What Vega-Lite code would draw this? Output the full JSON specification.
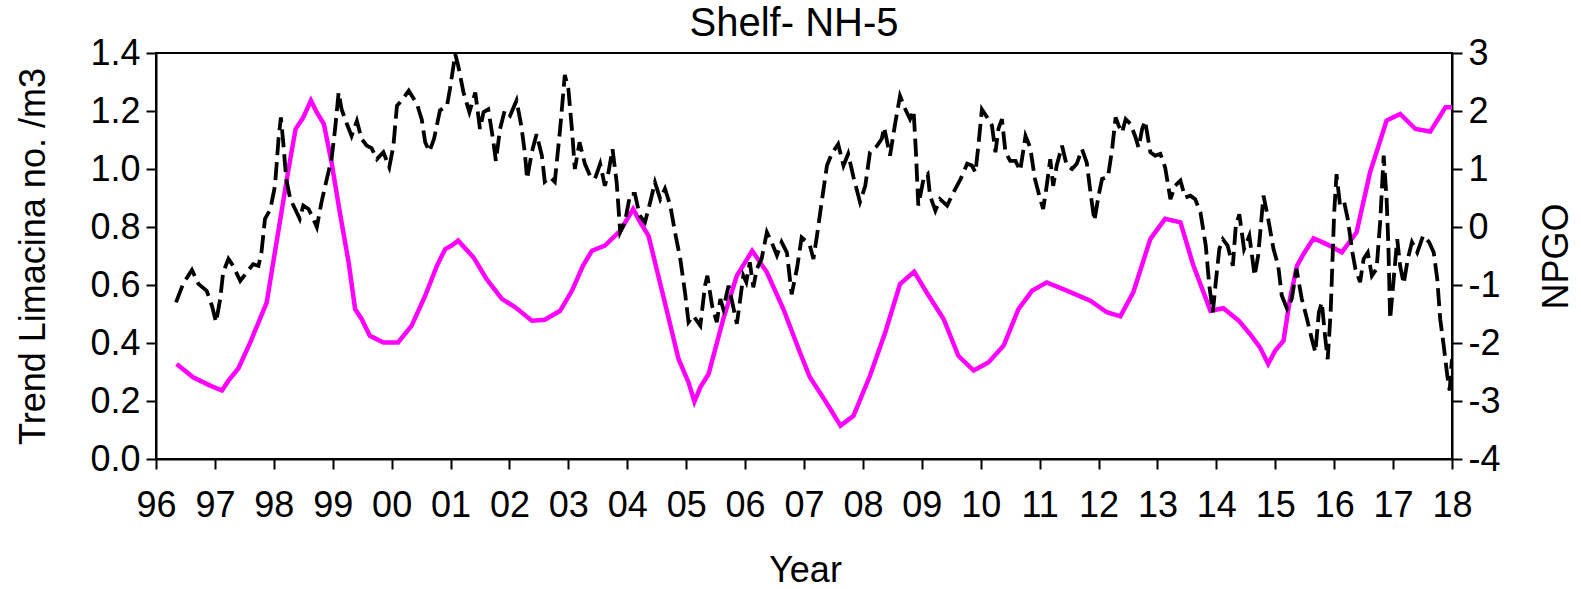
{
  "$schema": "https://vega.github.io/schema/vega-lite/v6.json",
  "width": 1296,
  "height": 406,
  "autosize": {"type": "none"},
  "padding": {"left": 156, "top": 53, "right": 129, "bottom": 130},
  "background": "white",
  "config": {
    "font": "Liberation Sans",
    "view": {"stroke": "black", "strokeWidth": 2},
    "axis": {
      "grid": false,
      "domainColor": "black",
      "domainWidth": 2,
      "tickColor": "black",
      "tickWidth": 2,
      "tickSize": 10,
      "labelColor": "black",
      "labelFont": "Liberation Sans",
      "labelFontSize": 36,
      "labelFlush": false,
      "labelOverlap": false,
      "titleColor": "black",
      "titleFont": "Liberation Sans",
      "titleFontSize": 36,
      "titleFontWeight": "normal"
    }
  },
  "title": {
    "text": "Shelf- NH-5",
    "font": "Liberation Sans",
    "fontSize": 40,
    "fontWeight": "normal",
    "color": "black",
    "anchor": "middle",
    "frame": "group",
    "baseline": "alphabetic",
    "offset": 16,
    "dx": -10,
    "dy": 57
  },
  "datasets": {
    "lim": [
      {"t": 1996.35, "v": 0.328}, {"t": 1996.63, "v": 0.282}, {"t": 1996.92, "v": 0.253}, {"t": 1997.12, "v": 0.236},
      {"t": 1997.23, "v": 0.27}, {"t": 1997.40, "v": 0.313}, {"t": 1997.60, "v": 0.402}, {"t": 1997.88, "v": 0.54},
      {"t": 1997.99, "v": 0.678}, {"t": 1998.13, "v": 0.851}, {"t": 1998.25, "v": 1.0}, {"t": 1998.37, "v": 1.138},
      {"t": 1998.50, "v": 1.178}, {"t": 1998.63, "v": 1.236}, {"t": 1998.73, "v": 1.195}, {"t": 1998.85, "v": 1.155},
      {"t": 1998.98, "v": 1.023}, {"t": 1999.12, "v": 0.851}, {"t": 1999.27, "v": 0.678}, {"t": 1999.38, "v": 0.517},
      {"t": 1999.49, "v": 0.483}, {"t": 1999.63, "v": 0.425}, {"t": 1999.72, "v": 0.416}, {"t": 1999.86, "v": 0.402},
      {"t": 2000.11, "v": 0.402}, {"t": 2000.34, "v": 0.46}, {"t": 2000.57, "v": 0.563}, {"t": 2000.77, "v": 0.667},
      {"t": 2000.91, "v": 0.724}, {"t": 2001.02, "v": 0.736}, {"t": 2001.13, "v": 0.753}, {"t": 2001.39, "v": 0.695},
      {"t": 2001.61, "v": 0.621}, {"t": 2001.87, "v": 0.552}, {"t": 2002.10, "v": 0.523}, {"t": 2002.38, "v": 0.477},
      {"t": 2002.60, "v": 0.48}, {"t": 2002.86, "v": 0.511}, {"t": 2003.06, "v": 0.58}, {"t": 2003.25, "v": 0.667},
      {"t": 2003.40, "v": 0.718}, {"t": 2003.62, "v": 0.736}, {"t": 2003.88, "v": 0.787}, {"t": 2004.10, "v": 0.862},
      {"t": 2004.22, "v": 0.816}, {"t": 2004.36, "v": 0.77}, {"t": 2004.61, "v": 0.563}, {"t": 2004.87, "v": 0.345},
      {"t": 2005.04, "v": 0.264}, {"t": 2005.14, "v": 0.198}, {"t": 2005.24, "v": 0.247}, {"t": 2005.38, "v": 0.293},
      {"t": 2005.63, "v": 0.483}, {"t": 2005.86, "v": 0.632}, {"t": 2006.00, "v": 0.678}, {"t": 2006.12, "v": 0.718},
      {"t": 2006.37, "v": 0.644}, {"t": 2006.65, "v": 0.517}, {"t": 2006.93, "v": 0.368}, {"t": 2007.10, "v": 0.282},
      {"t": 2007.36, "v": 0.201}, {"t": 2007.62, "v": 0.115}, {"t": 2007.84, "v": 0.149}, {"t": 2008.12, "v": 0.287},
      {"t": 2008.38, "v": 0.437}, {"t": 2008.63, "v": 0.603}, {"t": 2008.87, "v": 0.646}, {"t": 2009.08, "v": 0.575},
      {"t": 2009.37, "v": 0.483}, {"t": 2009.62, "v": 0.356}, {"t": 2009.88, "v": 0.305}, {"t": 2010.13, "v": 0.333},
      {"t": 2010.39, "v": 0.391}, {"t": 2010.64, "v": 0.517}, {"t": 2010.87, "v": 0.58}, {"t": 2011.12, "v": 0.609},
      {"t": 2011.40, "v": 0.586}, {"t": 2011.86, "v": 0.546}, {"t": 2012.14, "v": 0.506}, {"t": 2012.37, "v": 0.492},
      {"t": 2012.59, "v": 0.575}, {"t": 2012.88, "v": 0.759}, {"t": 2013.13, "v": 0.828}, {"t": 2013.39, "v": 0.816},
      {"t": 2013.61, "v": 0.667}, {"t": 2013.90, "v": 0.511}, {"t": 2014.12, "v": 0.52}, {"t": 2014.38, "v": 0.477},
      {"t": 2014.57, "v": 0.431}, {"t": 2014.74, "v": 0.385}, {"t": 2014.88, "v": 0.328}, {"t": 2015.00, "v": 0.374},
      {"t": 2015.14, "v": 0.408}, {"t": 2015.25, "v": 0.552}, {"t": 2015.37, "v": 0.667}, {"t": 2015.48, "v": 0.707},
      {"t": 2015.65, "v": 0.761}, {"t": 2015.87, "v": 0.741}, {"t": 2016.13, "v": 0.713}, {"t": 2016.38, "v": 0.782},
      {"t": 2016.61, "v": 0.989}, {"t": 2016.89, "v": 1.167}, {"t": 2017.12, "v": 1.19}, {"t": 2017.38, "v": 1.138},
      {"t": 2017.63, "v": 1.129}, {"t": 2017.89, "v": 1.213}, {"t": 2018.0, "v": 1.213}
    ],
    "npgo": [
      {"t": 1996.34, "v": -1.30}, {"t": 1996.46, "v": -0.98}, {"t": 1996.61, "v": -0.74}, {"t": 1996.72, "v": -0.98},
      {"t": 1996.86, "v": -1.10}, {"t": 1996.95, "v": -1.36}, {"t": 1997.02, "v": -1.64}, {"t": 1997.09, "v": -1.24},
      {"t": 1997.14, "v": -0.78}, {"t": 1997.23, "v": -0.55}, {"t": 1997.31, "v": -0.67}, {"t": 1997.43, "v": -0.93},
      {"t": 1997.54, "v": -0.78}, {"t": 1997.65, "v": -0.64}, {"t": 1997.74, "v": -0.67}, {"t": 1997.79, "v": -0.44},
      {"t": 1997.85, "v": 0.14}, {"t": 1997.94, "v": 0.30}, {"t": 1998.02, "v": 0.71}, {"t": 1998.08, "v": 1.52},
      {"t": 1998.12, "v": 1.89}, {"t": 1998.16, "v": 1.46}, {"t": 1998.21, "v": 0.83}, {"t": 1998.28, "v": 0.48},
      {"t": 1998.39, "v": 0.25}, {"t": 1998.44, "v": 0.14}, {"t": 1998.50, "v": 0.37}, {"t": 1998.59, "v": 0.31},
      {"t": 1998.67, "v": 0.14}, {"t": 1998.73, "v": 0.0}, {"t": 1998.81, "v": 0.43}, {"t": 1998.90, "v": 0.83},
      {"t": 1998.98, "v": 1.17}, {"t": 1999.04, "v": 1.69}, {"t": 1999.10, "v": 2.32}, {"t": 1999.15, "v": 2.03},
      {"t": 1999.24, "v": 1.78}, {"t": 1999.32, "v": 1.57}, {"t": 1999.41, "v": 1.83}, {"t": 1999.49, "v": 1.52},
      {"t": 1999.58, "v": 1.40}, {"t": 1999.66, "v": 1.36}, {"t": 1999.75, "v": 1.17}, {"t": 1999.86, "v": 1.29},
      {"t": 1999.96, "v": 1.03}, {"t": 2000.03, "v": 1.40}, {"t": 2000.09, "v": 2.09}, {"t": 2000.17, "v": 2.18},
      {"t": 2000.29, "v": 2.35}, {"t": 2000.43, "v": 2.12}, {"t": 2000.51, "v": 1.86}, {"t": 2000.57, "v": 1.46},
      {"t": 2000.64, "v": 1.30}, {"t": 2000.72, "v": 1.52}, {"t": 2000.82, "v": 2.01}, {"t": 2000.94, "v": 2.09},
      {"t": 2000.99, "v": 2.38}, {"t": 2001.08, "v": 2.98}, {"t": 2001.13, "v": 2.78}, {"t": 2001.22, "v": 2.32},
      {"t": 2001.32, "v": 1.98}, {"t": 2001.42, "v": 2.32}, {"t": 2001.50, "v": 1.69}, {"t": 2001.56, "v": 1.98},
      {"t": 2001.64, "v": 2.03}, {"t": 2001.72, "v": 1.52}, {"t": 2001.77, "v": 1.14}, {"t": 2001.84, "v": 1.69},
      {"t": 2001.92, "v": 2.01}, {"t": 2002.01, "v": 1.92}, {"t": 2002.12, "v": 2.18}, {"t": 2002.20, "v": 1.75},
      {"t": 2002.26, "v": 1.29}, {"t": 2002.30, "v": 0.83}, {"t": 2002.38, "v": 1.29}, {"t": 2002.46, "v": 1.60},
      {"t": 2002.55, "v": 1.23}, {"t": 2002.60, "v": 0.78}, {"t": 2002.69, "v": 0.86}, {"t": 2002.77, "v": 0.78},
      {"t": 2002.86, "v": 1.69}, {"t": 2002.94, "v": 2.62}, {"t": 2003.00, "v": 2.38}, {"t": 2003.06, "v": 1.69},
      {"t": 2003.11, "v": 1.00}, {"t": 2003.19, "v": 1.46}, {"t": 2003.28, "v": 1.09}, {"t": 2003.37, "v": 0.88},
      {"t": 2003.45, "v": 0.83}, {"t": 2003.54, "v": 1.09}, {"t": 2003.62, "v": 0.71}, {"t": 2003.68, "v": 0.94},
      {"t": 2003.75, "v": 1.34}, {"t": 2003.82, "v": 0.77}, {"t": 2003.88, "v": -0.09}, {"t": 2003.96, "v": 0.08},
      {"t": 2004.05, "v": 0.57}, {"t": 2004.13, "v": 0.57}, {"t": 2004.21, "v": 0.20}, {"t": 2004.30, "v": 0.08},
      {"t": 2004.39, "v": 0.43}, {"t": 2004.47, "v": 0.77}, {"t": 2004.56, "v": 0.48}, {"t": 2004.64, "v": 0.66},
      {"t": 2004.73, "v": 0.37}, {"t": 2004.81, "v": -0.09}, {"t": 2004.90, "v": -0.55}, {"t": 2004.98, "v": -1.13},
      {"t": 2005.04, "v": -1.64}, {"t": 2005.12, "v": -1.53}, {"t": 2005.24, "v": -1.70}, {"t": 2005.32, "v": -1.01},
      {"t": 2005.36, "v": -0.84}, {"t": 2005.44, "v": -1.36}, {"t": 2005.52, "v": -1.64}, {"t": 2005.58, "v": -1.24},
      {"t": 2005.63, "v": -1.41}, {"t": 2005.72, "v": -1.01}, {"t": 2005.77, "v": -1.24}, {"t": 2005.86, "v": -1.67},
      {"t": 2005.91, "v": -1.30}, {"t": 2005.97, "v": -0.84}, {"t": 2006.02, "v": -0.95}, {"t": 2006.08, "v": -0.61},
      {"t": 2006.14, "v": -1.04}, {"t": 2006.20, "v": -0.72}, {"t": 2006.28, "v": -0.55}, {"t": 2006.37, "v": -0.09},
      {"t": 2006.45, "v": -0.26}, {"t": 2006.54, "v": -0.49}, {"t": 2006.62, "v": -0.26}, {"t": 2006.71, "v": -0.44},
      {"t": 2006.79, "v": -1.16}, {"t": 2006.88, "v": -0.72}, {"t": 2006.96, "v": -0.18}, {"t": 2007.05, "v": -0.26},
      {"t": 2007.10, "v": -0.32}, {"t": 2007.16, "v": -0.55}, {"t": 2007.22, "v": -0.15}, {"t": 2007.30, "v": 0.43},
      {"t": 2007.39, "v": 1.06}, {"t": 2007.47, "v": 1.26}, {"t": 2007.58, "v": 1.43}, {"t": 2007.67, "v": 1.06},
      {"t": 2007.75, "v": 1.26}, {"t": 2007.84, "v": 0.86}, {"t": 2007.95, "v": 0.43}, {"t": 2008.04, "v": 0.71},
      {"t": 2008.12, "v": 1.29}, {"t": 2008.24, "v": 1.40}, {"t": 2008.32, "v": 1.52}, {"t": 2008.36, "v": 1.72},
      {"t": 2008.46, "v": 1.23}, {"t": 2008.55, "v": 1.80}, {"t": 2008.63, "v": 2.26}, {"t": 2008.72, "v": 2.03},
      {"t": 2008.80, "v": 1.86}, {"t": 2008.86, "v": 2.01}, {"t": 2008.90, "v": 1.29}, {"t": 2008.94, "v": 0.37},
      {"t": 2009.03, "v": 0.83}, {"t": 2009.10, "v": 0.91}, {"t": 2009.14, "v": 0.54}, {"t": 2009.23, "v": 0.28},
      {"t": 2009.31, "v": 0.48}, {"t": 2009.43, "v": 0.37}, {"t": 2009.54, "v": 0.60}, {"t": 2009.66, "v": 0.83},
      {"t": 2009.77, "v": 1.09}, {"t": 2009.85, "v": 1.06}, {"t": 2009.91, "v": 0.94}, {"t": 2009.96, "v": 1.40},
      {"t": 2010.02, "v": 2.03}, {"t": 2010.11, "v": 1.89}, {"t": 2010.19, "v": 1.75}, {"t": 2010.25, "v": 1.29},
      {"t": 2010.30, "v": 1.69}, {"t": 2010.36, "v": 1.86}, {"t": 2010.42, "v": 1.29}, {"t": 2010.50, "v": 1.14},
      {"t": 2010.59, "v": 1.14}, {"t": 2010.67, "v": 0.97}, {"t": 2010.76, "v": 1.57}, {"t": 2010.84, "v": 1.37},
      {"t": 2010.92, "v": 0.83}, {"t": 2011.01, "v": 0.48}, {"t": 2011.06, "v": 0.31}, {"t": 2011.12, "v": 0.71},
      {"t": 2011.18, "v": 1.17}, {"t": 2011.23, "v": 0.71}, {"t": 2011.29, "v": 1.06}, {"t": 2011.38, "v": 1.40},
      {"t": 2011.46, "v": 1.06}, {"t": 2011.55, "v": 1.00}, {"t": 2011.63, "v": 1.09}, {"t": 2011.72, "v": 1.34},
      {"t": 2011.80, "v": 1.11}, {"t": 2011.87, "v": 0.54}, {"t": 2011.93, "v": 0.11}, {"t": 2012.00, "v": 0.54},
      {"t": 2012.06, "v": 0.83}, {"t": 2012.16, "v": 0.86}, {"t": 2012.23, "v": 1.34}, {"t": 2012.29, "v": 1.89},
      {"t": 2012.34, "v": 1.75}, {"t": 2012.40, "v": 1.63}, {"t": 2012.46, "v": 1.86}, {"t": 2012.54, "v": 1.78},
      {"t": 2012.62, "v": 1.57}, {"t": 2012.68, "v": 1.37}, {"t": 2012.74, "v": 1.69}, {"t": 2012.79, "v": 1.83},
      {"t": 2012.88, "v": 1.29}, {"t": 2012.96, "v": 1.23}, {"t": 2013.05, "v": 1.26}, {"t": 2013.13, "v": 1.03},
      {"t": 2013.22, "v": 0.48}, {"t": 2013.30, "v": 0.71}, {"t": 2013.39, "v": 0.80}, {"t": 2013.47, "v": 0.51},
      {"t": 2013.56, "v": 0.54}, {"t": 2013.64, "v": 0.48}, {"t": 2013.73, "v": 0.25}, {"t": 2013.82, "v": -0.32},
      {"t": 2013.88, "v": -1.01}, {"t": 2013.94, "v": -1.47}, {"t": 2013.99, "v": -0.95}, {"t": 2014.05, "v": -0.38},
      {"t": 2014.11, "v": -0.21}, {"t": 2014.19, "v": -0.32}, {"t": 2014.28, "v": -0.67}, {"t": 2014.33, "v": 0.02},
      {"t": 2014.39, "v": 0.22}, {"t": 2014.47, "v": -0.38}, {"t": 2014.56, "v": -0.15}, {"t": 2014.65, "v": -0.84},
      {"t": 2014.71, "v": -0.49}, {"t": 2014.80, "v": 0.54}, {"t": 2014.88, "v": 0.14}, {"t": 2014.97, "v": -0.38},
      {"t": 2015.05, "v": -0.67}, {"t": 2015.11, "v": -1.18}, {"t": 2015.20, "v": -1.41}, {"t": 2015.28, "v": -1.24},
      {"t": 2015.36, "v": -0.72}, {"t": 2015.45, "v": -1.24}, {"t": 2015.54, "v": -1.59}, {"t": 2015.62, "v": -1.93},
      {"t": 2015.68, "v": -2.16}, {"t": 2015.74, "v": -1.47}, {"t": 2015.79, "v": -1.30}, {"t": 2015.85, "v": -1.93},
      {"t": 2015.89, "v": -2.28}, {"t": 2015.94, "v": -1.47}, {"t": 2016.00, "v": 0.25}, {"t": 2016.04, "v": 0.91},
      {"t": 2016.10, "v": 0.37}, {"t": 2016.17, "v": 0.43}, {"t": 2016.23, "v": 0.14}, {"t": 2016.31, "v": -0.44},
      {"t": 2016.36, "v": -0.72}, {"t": 2016.44, "v": -0.95}, {"t": 2016.50, "v": -0.55}, {"t": 2016.57, "v": -0.44},
      {"t": 2016.64, "v": -0.84}, {"t": 2016.72, "v": -0.72}, {"t": 2016.78, "v": 0.08}, {"t": 2016.84, "v": 1.23},
      {"t": 2016.89, "v": 0.48}, {"t": 2016.92, "v": -0.32}, {"t": 2016.95, "v": -1.59}, {"t": 2017.01, "v": -0.90},
      {"t": 2017.07, "v": -0.21}, {"t": 2017.12, "v": -0.67}, {"t": 2017.18, "v": -0.98}, {"t": 2017.25, "v": -0.55},
      {"t": 2017.32, "v": -0.26}, {"t": 2017.41, "v": -0.44}, {"t": 2017.51, "v": -0.15}, {"t": 2017.61, "v": -0.26},
      {"t": 2017.69, "v": -0.44}, {"t": 2017.75, "v": -0.90}, {"t": 2017.80, "v": -1.59}, {"t": 2017.86, "v": -2.05},
      {"t": 2017.92, "v": -2.56}, {"t": 2017.96, "v": -2.82}, {"t": 2017.99, "v": -2.39}, {"t": 2018.0, "v": -2.28}
    ]
  },
  "layer": [
    {
      "data": {"name": "lim"},
      "mark": {"type": "line", "color": "#FF00FF", "strokeWidth": 4.5, "clip": true},
      "encoding": {
        "x": {
          "field": "t",
          "type": "quantitative",
          "scale": {"domain": [1996, 2018], "nice": false, "zero": false},
          "axis": {
            "values": [1996, 1997, 1998, 1999, 2000, 2001, 2002, 2003, 2004, 2005, 2006, 2007, 2008, 2009, 2010, 2011, 2012, 2013, 2014, 2015, 2016, 2017, 2018],
            "labelExpr": "slice(toString(datum.value), 2)",
            "labelPadding": 19,
            "labelBaseline": "top",
            "title": "Year",
            "titleX": 649,
            "titleY": 122,
            "titleAlign": "center",
            "titleBaseline": "alphabetic"
          }
        },
        "y": {
          "field": "v",
          "type": "quantitative",
          "scale": {"domain": [0, 1.4], "nice": false, "zero": false},
          "axis": {
            "orient": "left",
            "values": [0, 0.2, 0.4, 0.6, 0.8, 1.0, 1.2, 1.4],
            "format": ".1f",
            "labelPadding": 6,
            "title": "Trend Limacina no. /m3",
            "titleAngle": 270,
            "titleX": -123,
            "titleY": 203,
            "titleAlign": "center",
            "titleBaseline": "middle"
          }
        }
      }
    },
    {
      "data": {"name": "npgo"},
      "mark": {"type": "line", "color": "black", "strokeWidth": 3.8, "strokeDash": [18, 7], "clip": true},
      "encoding": {
        "x": {
          "field": "t",
          "type": "quantitative",
          "scale": {"domain": [1996, 2018], "nice": false, "zero": false}
        },
        "y": {
          "field": "v",
          "type": "quantitative",
          "scale": {"domain": [-4, 3], "nice": false, "zero": false},
          "axis": {
            "orient": "right",
            "values": [-4, -3, -2, -1, 0, 1, 2, 3],
            "labelExpr": "toString(datum.value)",
            "labelPadding": 6,
            "title": "NPGO",
            "titleAngle": 270,
            "titleX": 104,
            "titleY": 203,
            "titleAlign": "center",
            "titleBaseline": "middle"
          }
        }
      }
    }
  ],
  "resolve": {"scale": {"y": "independent"}}
}
